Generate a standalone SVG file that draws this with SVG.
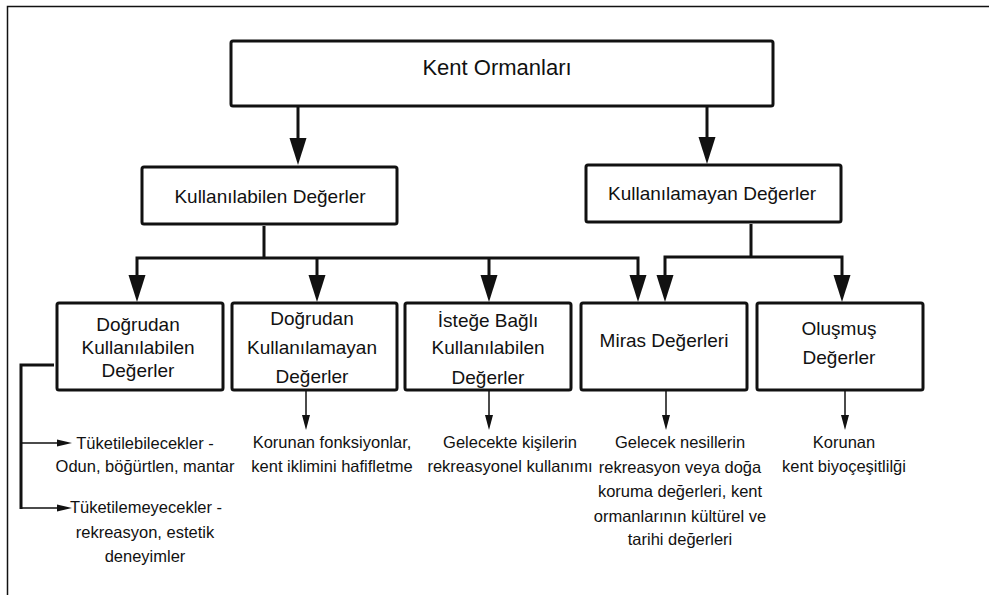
<svg xmlns="http://www.w3.org/2000/svg" xmlns:xlink="http://www.w3.org/1999/xlink" width="989" height="595" viewBox="0 0 989 595">
<style>
.box{fill:#fff;stroke:#111;stroke-width:3}
.t{font-family:"Liberation Sans",Arial,sans-serif;fill:#111;text-anchor:middle}
.big{font-size:22px}
.mid{font-size:19px}
.sm{font-size:16.5px}
.thick{stroke:#111;stroke-width:3;fill:none}
.thin{stroke:#111;stroke-width:1.5;fill:none}
.head{fill:#111}
</style>
<defs>
<path id="bigHead" class="head" d="M-8.5,-27 L8.5,-27 L0,0 Z"/>
<path id="smallHead" class="head" d="M-4,-15 L4,-15 L0,0 Z"/>
<path id="sideHead" class="head" d="M-15,-3.5 L-15,3.5 L0,0 Z"/>
</defs>
<rect width="989" height="595" fill="#fff"/>
<path class="thin" d="M7.5,595 V6.5 H989"/>

<g id="connectors">
<line class="thick" x1="298" y1="106" x2="298" y2="140"/>
<use xlink:href="#bigHead" x="298" y="165"/>
<line class="thick" x1="707" y1="106" x2="707" y2="138"/>
<use xlink:href="#bigHead" x="707" y="164"/>

<path class="thick" d="M264,226 V258 M137,278 V258 H638 V278 M317,258 V278 M489,258 V278"/>
<use xlink:href="#bigHead" x="137" y="302"/>
<use xlink:href="#bigHead" x="317" y="302"/>
<use xlink:href="#bigHead" x="489" y="302"/>
<use xlink:href="#bigHead" x="638" y="302"/>

<path class="thick" d="M751,224 V257 M665,278 V257 H842 V278"/>
<use xlink:href="#bigHead" x="665" y="302"/>
<use xlink:href="#bigHead" x="842" y="302"/>

<path class="thin" d="M306,391 V418 M489,391 V418 M666,391 V418 M845,391 V418"/>
<use xlink:href="#smallHead" x="306" y="430"/>
<use xlink:href="#smallHead" x="489" y="430"/>
<use xlink:href="#smallHead" x="666" y="430"/>
<use xlink:href="#smallHead" x="845" y="430"/>

<path class="thick" d="M54,365 H21 V509"/>
<path class="thin" d="M21,443 H60 M21,508 H60"/>
<use xlink:href="#sideHead" x="72" y="443"/>
<use xlink:href="#sideHead" x="72" y="508"/>
</g>

<g id="kent-ormanlari">
<rect class="box" x="231" y="41" width="542" height="65" rx="2"/>
<text class="t big" x="497" y="75">Kent Ormanları</text>
</g>

<g id="kullanilabilen">
<rect class="box" x="142" y="167" width="255" height="57" rx="2"/>
<text class="t mid" x="270" y="203">Kullanılabilen Değerler</text>
</g>

<g id="kullanilamayan">
<rect class="box" x="586" y="165" width="255" height="57" rx="2"/>
<text class="t mid" x="712" y="200">Kullanılamayan Değerler</text>
</g>

<g id="dogrudan-kullanilabilen">
<rect class="box" x="57" y="303" width="166" height="87" rx="2"/>
<text class="t mid" x="138" y="331">Doğrudan</text>
<text class="t mid" x="138" y="354">Kullanılabilen</text>
<text class="t mid" x="138" y="377">Değerler</text>
</g>

<g id="dogrudan-kullanilamayan">
<rect class="box" x="232" y="303" width="165" height="87" rx="2"/>
<text class="t mid" x="312" y="325">Doğrudan</text>
<text class="t mid" x="312" y="354">Kullanılamayan</text>
<text class="t mid" x="312" y="383">Değerler</text>
</g>

<g id="istege-bagli">
<rect class="box" x="405" y="303" width="166" height="87" rx="2"/>
<text class="t mid" x="488" y="327">İsteğe Bağlı</text>
<text class="t mid" x="488" y="354">Kullanılabilen</text>
<text class="t mid" x="488" y="384">Değerler</text>
</g>

<g id="miras">
<rect class="box" x="581" y="303" width="166" height="87" rx="2"/>
<text class="t mid" x="664" y="347">Miras Değerleri</text>
</g>

<g id="olusmus">
<rect class="box" x="757" y="303" width="166" height="87" rx="2"/>
<text class="t mid" x="839" y="335">Oluşmuş</text>
<text class="t mid" x="839" y="364">Değerler</text>
</g>

<g id="notes">
<text class="t sm" x="145" y="449">Tüketilebilecekler -</text>
<text class="t sm" x="145" y="472">Odun, böğürtlen, mantar</text>
<text class="t sm" x="146" y="513">Tüketilemeyecekler -</text>
<text class="t sm" x="145" y="538">rekreasyon, estetik</text>
<text class="t sm" x="145" y="562">deneyimler</text>

<text class="t sm" x="332" y="448">Korunan fonksiyonlar,</text>
<text class="t sm" x="332" y="472">kent iklimini hafifletme</text>

<text class="t sm" x="510" y="448">Gelecekte kişilerin</text>
<text class="t sm" x="510" y="472">rekreasyonel kullanımı</text>

<text class="t sm" x="680" y="448">Gelecek nesillerin</text>
<text class="t sm" x="680" y="473">rekreasyon veya doğa</text>
<text class="t sm" x="680" y="497">koruma değerleri, kent</text>
<text class="t sm" x="680" y="522">ormanlarının kültürel ve</text>
<text class="t sm" x="680" y="545">tarihi değerleri</text>

<text class="t sm" x="844" y="448">Korunan</text>
<text class="t sm" x="844" y="472">kent biyoçeşitlilği</text>
</g>
</svg>
